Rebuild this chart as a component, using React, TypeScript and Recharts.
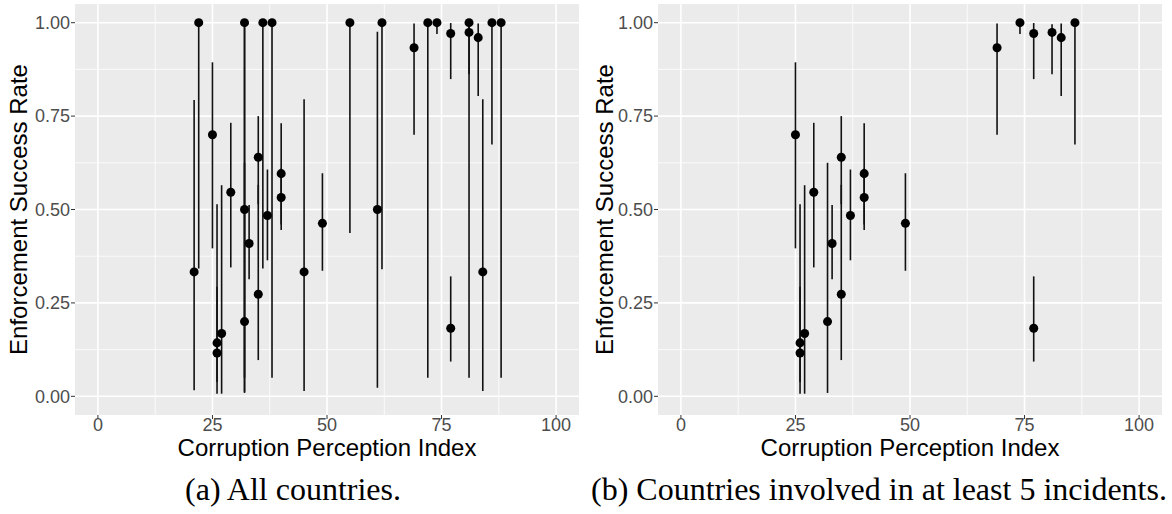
import React from 'react'
import { ScatterChart, Scatter, XAxis, YAxis, CartesianGrid, ErrorBar } from 'recharts'

document.body.style.margin = '0'

// one entry per country
const cpi = [21, 22, 25, 26, 26, 27, 29, 32, 32, 32, 33, 35, 35, 36, 37, 38, 40, 40,
  45, 49, 55, 61, 62, 69, 72, 74, 77, 77, 81, 81, 83, 84, 86, 88]
const successRate = [0.333, 1, 0.7, 0.143, 0.116, 0.168, 0.546, 1, 0.5, 0.2, 0.409, 0.64, 0.273, 1, 0.484, 1, 0.596, 0.532,
  0.333, 0.463, 1, 0.5, 1, 0.933, 1, 1, 0.971, 0.182, 1, 0.974, 0.96, 0.333, 1, 1]
const lowerCI = [0.016, 0.342, 0.396, 0.007, 0.038, 0.007, 0.345, 0.05, 0.012, 0.009, 0.313, 0.514, 0.097, 0.342, 0.364, 0.05, 0.445, 0.46,
  0.014, 0.336, 0.437, 0.023, 0.34, 0.7, 0.05, 0.97, 0.849, 0.093, 0.05, 0.862, 0.804, 0.014, 0.674, 0.05]
const upperCI = [0.793, 1, 0.894, 0.514, 0.293, 0.565, 0.732, 1, 0.988, 0.625, 0.512, 0.75, 0.566, 1, 0.607, 1, 0.731, 0.61,
  0.795, 0.597, 1, 0.976, 1, 0.998, 1, 1, 0.999, 0.321, 1, 0.996, 0.998, 0.795, 1, 1]
// 1 = involved in at least 5 incidents
const atLeast5 = [0, 0, 1, 1, 1, 1, 1, 0, 0, 1, 1, 1, 1, 0, 1, 0, 1, 1,
  0, 1, 0, 0, 0, 1, 0, 1, 1, 1, 0, 1, 1, 0, 1, 0]

const xTicks = [0, 25, 50, 75, 100]
const xMinor = [12.5, 37.5, 62.5, 87.5]
const yTicks = [0, 0.25, 0.5, 0.75, 1]
const yMinor = [0.125, 0.375, 0.625, 0.875]

const rows = cpi.map((x, i) => ({
  cpi: x,
  rate: successRate[i],
  err: [successRate[i] - lowerCI[i], upperCI[i] - successRate[i]],
  sub: atLeast5[i] === 1,
}))

function YTitle({ viewBox }: any) {
  const x = (viewBox?.x ?? 0) + 18
  const y = viewBox.y + viewBox.height / 2
  return (
    <text x={x} y={y} transform={`rotate(-90, ${x}, ${y})`} textAnchor="middle"
      dominantBaseline="central" fontSize={24} fill="#000">
      Enforcement Success Rate
    </text>
  )
}

function XTitle({ viewBox }: any) {
  return (
    <text x={viewBox.x + viewBox.width / 2} y={viewBox.y + 41} textAnchor="middle"
      fontSize={24} fill="#000">
      Corruption Perception Index
    </text>
  )
}

function Panel({ data, yWidth, right, caption }: { data: any[]; yWidth: number; right: number; caption: string }) {
  const tick = { fill: '#4D4D4D', fontSize: 18 }
  return (
    <div style={{ position: 'relative', width: 586, height: 514 }}>
      <ScatterChart width={586} height={462} margin={{ top: 4, right, bottom: 0, left: 0 }}>
        <CartesianGrid fill="#EBEBEB" stroke="#FFFFFF" strokeWidth={0.8}
          verticalValues={xMinor} horizontalValues={yMinor} />
        <CartesianGrid stroke="#FFFFFF" strokeWidth={1.6}
          verticalValues={xTicks} horizontalValues={yTicks} />
        <XAxis type="number" dataKey="cpi" domain={[-5, 105]} ticks={xTicks} height={47}
          axisLine={false} tickSize={4} tickMargin={-1} tick={tick}
          tickLine={{ stroke: '#333333' }} label={<XTitle />} />
        <YAxis type="number" dataKey="rate" domain={[-0.05, 1.05]} ticks={yTicks} width={yWidth}
          axisLine={false} tickSize={4} tickMargin={1} tick={tick}
          tickFormatter={(v: number) => v.toFixed(2)}
          tickLine={{ stroke: '#333333' }} label={<YTitle />} />
        <Scatter data={data} fill="#000000" isAnimationActive={false}>
          <ErrorBar dataKey="err" direction="y" width={0} stroke="#111111" strokeWidth={1.6}
            isAnimationActive={false} />
        </Scatter>
      </ScatterChart>
      <div style={{
        position: 'absolute', left: 0, top: 470, width: 586, textAlign: 'center',
        fontFamily: '"Liberation Serif", serif', fontSize: 32, lineHeight: '38px', color: '#000',
      }}>
        {caption}
      </div>
    </div>
  )
}

export default function App() {
  return (
    <div style={{
      display: 'flex', width: 1172, height: 514, background: '#fff',
      fontFamily: '"Liberation Sans", Arial, sans-serif',
    }}>
      <Panel data={rows} yWidth={75} right={7} caption="(a) All countries." />
      <Panel data={rows.filter(r => r.sub)} yWidth={72} right={10}
        caption="(b) Countries involved in at least 5 incidents." />
    </div>
  )
}
